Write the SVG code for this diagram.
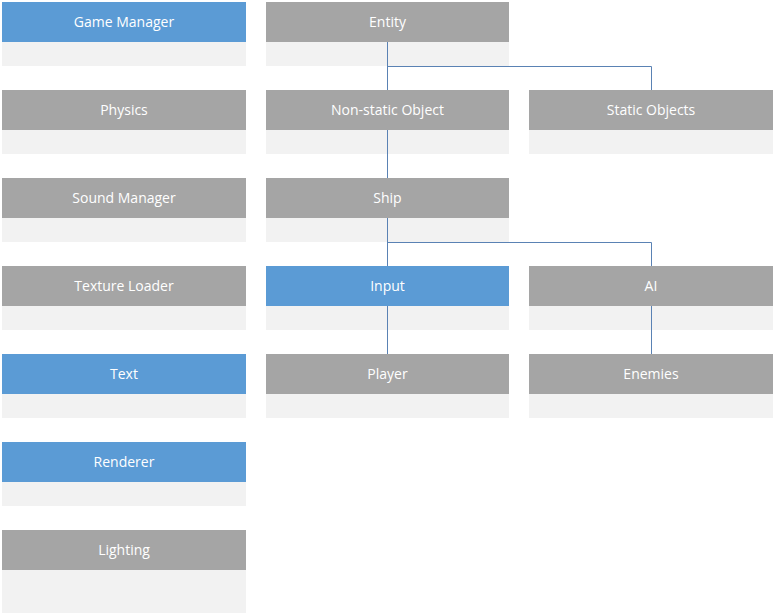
<svg xmlns="http://www.w3.org/2000/svg" width="775" height="615" viewBox="0 0 775 615">
<style>
.blue{fill:#5B9BD5}
.gray{fill:#A5A5A5}
.body{fill:#F2F2F2}
text{font-family:"Open Sans","Noto Sans",sans-serif;font-size:14px;fill:#FFFFFF;text-anchor:middle;dominant-baseline:central}
.c{fill:none;stroke:#5A82B4;stroke-width:1}
</style>
<rect width="775" height="615" fill="#FFFFFF"/>
<g id="game-manager"><rect class="blue" x="2" y="2" width="244" height="40"/><rect class="body" x="2" y="42" width="244" height="24"/><text x="124" y="21">Game Manager</text></g>
<g id="physics"><rect class="gray" x="2" y="90" width="244" height="40"/><rect class="body" x="2" y="130" width="244" height="24"/><text x="124" y="109">Physics</text></g>
<g id="sound-manager"><rect class="gray" x="2" y="178" width="244" height="40"/><rect class="body" x="2" y="218" width="244" height="24"/><text x="124" y="197">Sound Manager</text></g>
<g id="texture-loader"><rect class="gray" x="2" y="266" width="244" height="40"/><rect class="body" x="2" y="306" width="244" height="24"/><text x="124" y="285">Texture Loader</text></g>
<g id="text"><rect class="blue" x="2" y="354" width="244" height="40"/><rect class="body" x="2" y="394" width="244" height="24"/><text x="124" y="373">Text</text></g>
<g id="renderer"><rect class="blue" x="2" y="442" width="244" height="40"/><rect class="body" x="2" y="482" width="244" height="24"/><text x="124" y="461">Renderer</text></g>
<g id="lighting"><rect class="gray" x="2" y="530" width="244" height="40"/><rect class="body" x="2" y="570" width="244" height="43"/><text x="124" y="549">Lighting</text></g>
<g id="entity"><rect class="gray" x="266" y="2" width="243" height="40"/><rect class="body" x="266" y="42" width="243" height="24"/><text x="387.5" y="21">Entity</text></g>
<g id="non-static-object"><rect class="gray" x="266" y="90" width="243" height="40"/><rect class="body" x="266" y="130" width="243" height="24"/><text x="387.5" y="109">Non-static Object</text></g>
<g id="static-objects"><rect class="gray" x="529" y="90" width="244" height="40"/><rect class="body" x="529" y="130" width="244" height="24"/><text x="651" y="109">Static Objects</text></g>
<g id="ship"><rect class="gray" x="266" y="178" width="243" height="40"/><rect class="body" x="266" y="218" width="243" height="24"/><text x="387.5" y="197">Ship</text></g>
<g id="input"><rect class="blue" x="266" y="266" width="243" height="40"/><rect class="body" x="266" y="306" width="243" height="24"/><text x="387.5" y="285">Input</text></g>
<g id="ai"><rect class="gray" x="529" y="266" width="244" height="40"/><rect class="body" x="529" y="306" width="244" height="24"/><text x="651" y="285">AI</text></g>
<g id="player"><rect class="gray" x="266" y="354" width="243" height="40"/><rect class="body" x="266" y="394" width="243" height="24"/><text x="387.5" y="373">Player</text></g>
<g id="enemies"><rect class="gray" x="529" y="354" width="244" height="40"/><rect class="body" x="529" y="394" width="244" height="24"/><text x="651" y="373">Enemies</text></g>
<g id="connectors">
<path class="c" d="M387.5,42 V90 M387.5,66.5 H651.5 V90"/>
<path class="c" d="M387.5,130 V178"/>
<path class="c" d="M387.5,218 V266 M387.5,242.5 H651.5 V266"/>
<path class="c" d="M387.5,306 V354"/>
<path class="c" d="M651.5,306 V354"/>
</g>
</svg>
